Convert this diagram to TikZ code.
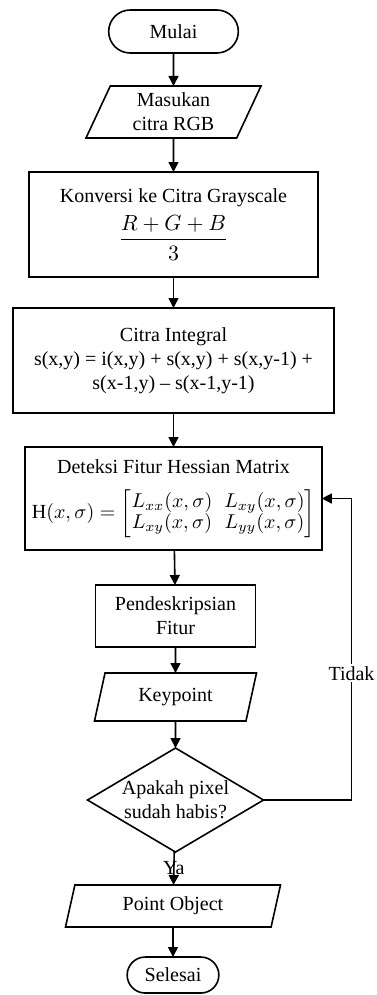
\documentclass[tikz,border=0pt]{standalone}
\usepackage{amsmath}
\usepackage{fontspec}
\setmainfont{Liberation Serif}
\usetikzlibrary{arrows.meta,calc,positioning,shapes.geometric,shapes.misc}

\begin{document}
\begin{tikzpicture}[
  term/.style={rounded rectangle, draw, line width=0.8pt, outer sep=0pt, minimum width=71.5pt, minimum height=21.5pt, font=\fontsize{10}{12}\selectfont},
  io/.style={trapezium, trapezium left angle=60, trapezium right angle=120, trapezium stretches body=true, draw, line width=0.8pt, outer sep=0pt, inner ysep=1pt, align=center, font=\fontsize{10}{12}\selectfont},
  proc/.style={rectangle, draw, line width=0.8pt, outer sep=0pt, align=center, font=\fontsize{10}{12}\selectfont},
  dec/.style={diamond, draw, line width=0.8pt, outer sep=0pt, aspect=1.7, inner sep=0pt, minimum width=88pt, minimum height=52pt, align=center, font=\fontsize{10}{12}\selectfont},
  arr/.style={-{Triangle[length=5pt,width=5pt]}, line width=0.8pt},
  node distance=16pt
]
\useasboundingbox (0,0) rectangle (188pt,-497.5pt);

\node[term] (start) at (86.75pt,-15.75pt) {Mulai};
\node[io, below=16.5pt of start, minimum width=87.5pt, minimum height=26pt] (input) {Masukan\\citra RGB};
\node[proc, below=17pt of input, minimum width=144.5pt, minimum height=52.5pt] (gray) {Konversi ke Citra Grayscale\\[3pt] {\fontsize{10.8}{13}\selectfont$\dfrac{R+G+B}{3}$}};
\node[proc, below=15.5pt of gray, minimum width=160.5pt, minimum height=52.5pt] (integ) {Citra Integral\\s(x,y) = i(x,y) + s(x,y) + s(x,y-1) +\\s(x-1,y) -- s(x-1,y-1)};
\node[proc, below=17pt of integ, minimum width=144pt, minimum height=51.5pt, inner ysep=2pt] (hess) {Deteksi Fitur Hessian Matrix\\[7pt] \setlength\arraycolsep{3pt}\renewcommand\arraystretch{0.9}H$(x,\sigma)=\begin{bmatrix}L_{xx}(x,\sigma) & L_{xy}(x,\sigma)\\ L_{xy}(x,\sigma) & L_{yy}(x,\sigma)\end{bmatrix}$};
\node[proc, below=17.5pt of hess, xshift=1pt, minimum width=80pt, minimum height=31pt] (desc) {Pendeskripsian\\Fitur};
\node[io, below=13pt of desc, minimum width=81pt, minimum height=24pt, trapezium left angle=64, trapezium right angle=116] (key) {Keypoint};
\node[dec, below=13.5pt of key] (check) {Apakah pixel\\sudah habis?};
\node[io, below=16.5pt of check, xshift=-1.25pt, minimum width=107.5pt, minimum height=21pt, trapezium left angle=67, trapezium right angle=113] (out) {Point Object};
\node[term, below=15pt of out, minimum width=52.5pt, minimum height=18pt] (stop) {Selesai};

\coordinate (back) at ($(check.east)+(44pt,0)$);

\draw[arr] (start) -- (input);
\draw[arr] (input) -- (gray);
\draw[arr] (gray) -- (integ);
\draw[arr] (integ) -- (hess);
\draw[arr] (hess) -- (desc);
\draw[arr] (desc) -- (key);
\draw[arr] (key) -- (check);
\draw[arr] (check) -- node[font=\fontsize{10}{12}\selectfont] {Ya} (out);
\draw[arr] (out) -- (stop);
\draw[arr] (check.east) -- (back) |- node[pos=0.21, fill=white, inner sep=1pt, font=\fontsize{10}{12}\selectfont] {Tidak} (hess.east);
\end{tikzpicture}
\end{document}
